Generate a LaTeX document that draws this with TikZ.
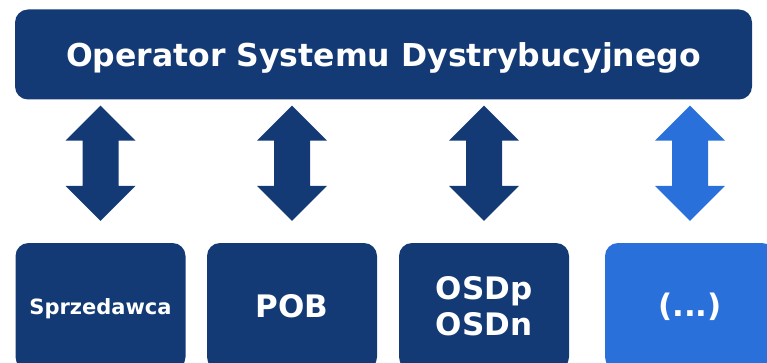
\documentclass[tikz,border=0pt]{standalone}
\usepackage{fontspec}
\setmainfont{DejaVu Sans}
\usetikzlibrary{calc}
\definecolor{osdblue}{RGB}{20,58,118}
\definecolor{moreblue}{RGB}{42,112,218}
\begin{document}
\begin{tikzpicture}[x=1pt, y=-1pt]
        \tikzset{%
         every box/.style={
            rectangle,
            rounded corners=13pt,
            fill=osdblue,
            text=white,
            align=center,
            inner sep=0pt,
            minimum width=170pt,
            minimum height=127pt,
            font=\bfseries\fontsize{31}{36}\selectfont},
        box 1/.style={
            text depth=0pt,
            font=\bfseries\fontsize{21}{25}\selectfont},
        box more/.style={
            fill=moreblue},
        arrow more/.style={
            fill=moreblue},
        }
        \useasboundingbox (0,0) rectangle (767,363);

        \node [every box/.try, minimum width=737pt, minimum height=90pt, text depth=0pt,
            font=\bfseries\fontsize{31.5}{38}\selectfont] (osd) at (383.5,54.5)
            {Operator Systemu Dystrybucyjnego};

        \foreach \m/\l/\x in {1/Sprzedawca/100.5, 2/POB/292, 3/{OSDp\\OSDn}/484, more/{(.{}.{}.)}/690}
        {
            \node [every box/.try, box \m/.try] (box-\m) at (\x,306.5) {\l};
        }

        \foreach \m in {1,2,3,more}
        {
            \coordinate (top-\m) at ($(osd.south -| box-\m.north)+(0,6)$);
            \coordinate (bot-\m) at ($(box-\m.north)+(0,-22)$);
            \fill [osdblue, arrow \m/.try] (top-\m) -- ++(35,35) -- ++(-17,0)
                -- ($(bot-\m)+(18,-35)$) -- ++(17,0) -- (bot-\m)
                -- ++(-35,-35) -- ++(17,0) -- ($(top-\m)+(-18,35)$)
                -- ++(-17,0) -- cycle;
        }
\end{tikzpicture}
\end{document}
